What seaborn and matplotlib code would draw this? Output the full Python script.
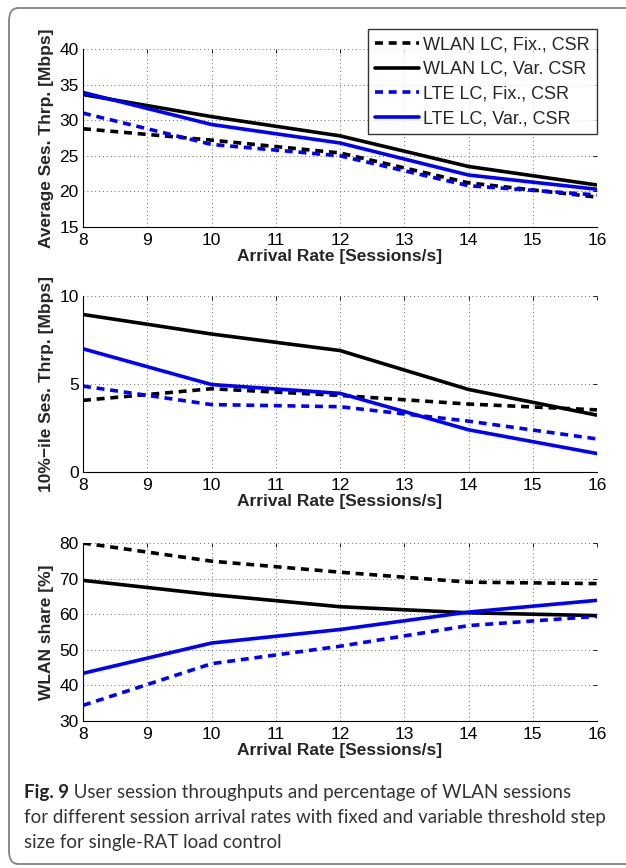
import numpy as np
import pandas as pd
import matplotlib
matplotlib.use("Agg")
import matplotlib.pyplot as plt
import seaborn as sns
from matplotlib.patches import FancyBboxPatch
from matplotlib.lines import Line2D

rates = [8, 10, 12, 14, 16]
series = ["WLAN LC, Fix., CSR", "WLAN LC, Var. CSR", "LTE LC, Fix., CSR", "LTE LC, Var., CSR"]

avg_wlan_fix = [28.8, 27.2, 25.4, 21.2, 19.2]
avg_wlan_var = [33.6, 30.5, 27.8, 23.5, 20.9]
avg_lte_fix = [31.0, 26.6, 25.0, 20.8, 19.5]
avg_lte_var = [33.9, 29.4, 26.8, 22.3, 20.3]

p10_wlan_fix = [4.07, 4.73, 4.35, 3.86, 3.53]
p10_wlan_var = [8.95, 7.84, 6.9, 4.69, 3.23]
p10_lte_fix = [4.88, 3.83, 3.71, 2.89, 1.88]
p10_lte_var = [7.0, 4.97, 4.47, 2.4, 1.05]

share_wlan_fix = [80.0, 74.9, 71.8, 69.0, 68.6]
share_wlan_var = [69.5, 65.5, 62.1, 60.4, 59.6]
share_lte_fix = [34.4, 46.1, 51.0, 56.8, 59.4]
share_lte_var = [43.4, 51.9, 55.7, 60.6, 63.9]

xticks = [8, 9, 10, 11, 12, 13, 14, 15, 16]
xlabel = "Arrival Rate [Sessions/s]"
ylabels = ["Average Ses. Thrp. [Mbps]", "10%\u2212ile Ses. Thrp. [Mbps]", "WLAN share [%]"]
yticks_list = [[15, 20, 25, 30, 35, 40], [0, 5, 10], [30, 40, 50, 60, 70, 80]]
caption_bold = "Fig. 9"
caption_lines = [" User session throughputs and percentage of WLAN sessions",
                 "for different session arrival rates with fixed and variable threshold step",
                 "size for single-RAT load control"]

colors = {series[0]: "black", series[1]: "black", series[2]: "#0000ff", series[3]: "#0000ff"}
dash = (2.2, 1.6)
dashes = {series[0]: dash, series[1]: "", series[2]: dash, series[3]: ""}

def make_df(vals):
    rows = []
    for s, v in zip(series, vals):
        for x, y in zip(rates, v):
            rows.append({"rate": x, "value": y, "series": s})
    return pd.DataFrame(rows)

dfs = [make_df([avg_wlan_fix, avg_wlan_var, avg_lte_fix, avg_lte_var]),
       make_df([p10_wlan_fix, p10_wlan_var, p10_lte_fix, p10_lte_var]),
       make_df([share_wlan_fix, share_wlan_var, share_lte_fix, share_lte_var])]

sns.set_style("white")
plt.rcParams["font.family"] = ["Liberation Sans", "DejaVu Sans"]

W, H = 626, 868
fig = plt.figure(figsize=(W / 100, H / 100), dpi=100)

def fx(px):
    return px / W

def fy(py):
    return 1 - py / H

boxes = [(49, 227), (296, 472), (543, 721)]
left, right = 83, 597

for i, (top, bot) in enumerate(boxes):
    ax = fig.add_axes([fx(left), fy(bot), fx(right) - fx(left), fy(top) - fy(bot)])
    sns.lineplot(data=dfs[i], x="rate", y="value", hue="series", style="series",
                 palette=colors, dashes=dashes, linewidth=2.6, ax=ax, legend=False,
                 hue_order=series, style_order=series)
    ax.set_xlim(8, 16)
    yt = yticks_list[i]
    ax.set_ylim(yt[0], yt[-1])
    ax.set_xticks(xticks)
    ax.set_yticks(yt)
    ax.tick_params(direction="in", length=3, width=0.6, labelsize=12.5, pad=3,
                   top=True, right=True, colors="black")
    ax.tick_params(axis="x", pad=4)
    ax.grid(True, linestyle=(0, (1, 3)), color="#666666", linewidth=0.7)
    for sp in ax.spines.values():
        sp.set_linewidth(0.8)
        sp.set_color("black")
    ax.spines["top"].set_visible(False)
    ax.spines["right"].set_visible(False)
    ax.set_xlabel(xlabel, fontsize=12.5, fontweight="bold", labelpad=1)
    ax.set_ylabel(ylabels[i], fontsize=12.5, fontweight="bold", labelpad=4)
    if i == 0:
        handles = [Line2D([0], [0], color=colors[s], lw=2.6,
                          linestyle=(0, dashes[s]) if dashes[s] else "-") for s in series]
        leg = ax.legend(handles, series, loc="upper right", bbox_to_anchor=(1.0, 1.112),
                        fontsize=13, frameon=True, fancybox=False, handlelength=2.4,
                        handletextpad=0.25, borderpad=0.4, labelspacing=0.42,
                        borderaxespad=0.0, handleheight=0.6)
        leg.get_frame().set_edgecolor("black")
        leg.get_frame().set_linewidth(1.0)

# border
border = FancyBboxPatch((fx(9), fy(864)), fx(640) - fx(9), fy(8) - fy(864),
                        boxstyle="round,pad=0,rounding_size=0.015",
                        transform=fig.transFigure, facecolor="none",
                        edgecolor="#8a8a8a", linewidth=1.4, clip_on=False)
fig.patches.append(border)

cap_font = ["Lato", "DejaVu Sans"]
# fit caption font so that the widest line spans about the reference width
probe = fig.text(0, 0, caption_lines[1], fontsize=14, family=cap_font)
fig.canvas.draw()
wpx = probe.get_window_extent().width
probe.remove()
cap_fs = 14 * 582.0 / wpx

t = fig.text(fx(24), fy(798), caption_bold, fontsize=cap_fs, fontweight="bold",
             family=cap_font, color="#222222")
fig.canvas.draw()
bb = t.get_window_extent()
fig.text(bb.x1 / W, fy(798), caption_lines[0], fontsize=cap_fs, family=cap_font,
         color="#333333")
fig.text(fx(24), fy(823), caption_lines[1], fontsize=cap_fs, family=cap_font, color="#333333")
fig.text(fx(24), fy(848), caption_lines[2], fontsize=cap_fs, family=cap_font, color="#333333")

fig.savefig("out.png", dpi=100)
